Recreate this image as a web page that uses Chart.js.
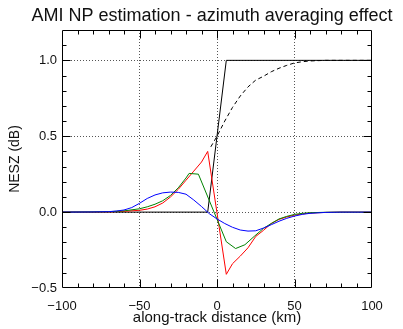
<!DOCTYPE html>
<html>
<head>
<meta charset="utf-8">
<script src="https://cdn.jsdelivr.net/npm/chart.js@4.4.0/dist/chart.umd.min.js"></script>
<style>
    html, body { margin: 0; padding: 0; background: #fff; }
</style>
</head>
<body>
<canvas id="npChart" width="403" height="329"></canvas>
<script>
const chartTitle = 'AMI NP estimation - azimuth averaging effect';

// axes
const xTicks = [-100, -50, 0, 50, 100];
const yTicks = [-0.5, 0.0, 0.5, 1.0];
const xGrid = [-50, 0, 50];
const yGrid = [0, 0.5, 1.0];

// black step (solid)
const xStep = [-100, -6, 6, 100];
const yStep = [0, 0, 1, 1];

// black smoothed step (dashed)
const xSmooth = [-4, 0, 5, 10, 15, 20, 25, 30, 35, 40, 45, 50, 55, 60, 70, 100];
const ySmooth = [0.43, 0.5, 0.6, 0.69, 0.765, 0.825, 0.87, 0.895, 0.925, 0.948, 0.967, 0.983, 0.991, 0.996, 1.0, 1.0];

// red difference
const xRed = [-100, -80, -70, -60, -50, -45, -40, -35, -30, -25, -20, -15, -10, -6, 6, 10, 15, 20, 25, 30, 35, 40, 45, 50, 55, 60, 70, 80, 100];
const yRed = [0, 0, 0.002, 0.005, 0.012, 0.02, 0.035, 0.06, 0.1, 0.15, 0.21, 0.27, 0.33, 0.40, -0.41, -0.34, -0.29, -0.235, -0.16, -0.12, -0.075, -0.048, -0.032, -0.02, -0.012, -0.006, -0.002, 0, 0];

// green difference
const xGreen = [-100, -80, -70, -60, -50, -45, -40, -35, -30, -25, -20, -18, -12, 6, 12, 18, 24, 30, 35, 40, 45, 50, 55, 60, 70, 80, 100];
const yGreen = [0, 0.001, 0.003, 0.008, 0.022, 0.035, 0.052, 0.075, 0.11, 0.16, 0.225, 0.255, 0.25, -0.195, -0.24, -0.215, -0.16, -0.107, -0.075, -0.045, -0.028, -0.015, -0.008, -0.004, -0.001, 0, 0];

// blue difference
const xBlue = [-100, -80, -70, -65, -60, -55, -50, -45, -40, -35, -30, -25, -20, -15, -10, -5, 0, 5, 10, 15, 20, 25, 30, 35, 40, 45, 50, 55, 60, 70, 80, 100];
const yBlue = [0, 0.001, 0.003, 0.007, 0.014, 0.03, 0.058, 0.09, 0.113, 0.127, 0.132, 0.13, 0.118, 0.08, 0.037, -0.01, -0.045, -0.075, -0.1, -0.118, -0.125, -0.123, -0.105, -0.083, -0.06, -0.041, -0.026, -0.015, -0.008, -0.002, 0, 0];

/**
 * Junta dos listas en puntos {x, y}
 */
function toPoints(xs, ys){
    return xs.map((x, i) => ({ x: x, y: ys[i] }));
}

const font = 'Liberation Sans, Arial, sans-serif';

/**
 * Marco del grafico, marcas menores hacia dentro y titulo
 */
const frameTicks = {
    id: 'frameTicks',
    afterDatasetsDraw(chart){
        const ctx = chart.ctx;
        const a = chart.chartArea;
        const x = chart.scales.x;
        const y = chart.scales.y;
        const L = Math.round(a.left) + 0.5, R = Math.round(a.right) - 0.5;
        const T = Math.round(a.top) + 0.5, B = Math.round(a.bottom) - 0.5;
        ctx.save();
        ctx.strokeStyle = '#000';
        ctx.lineWidth = 1;
        ctx.beginPath();
        ctx.rect(L, T, R - L, B - T);
        for (let v = -90; v <= 90; v += 10) {
            const px = Math.round(x.getPixelForValue(v)) + 0.5;
            const len = (v % 50 === 0) ? 8 : 4;
            ctx.moveTo(px, B); ctx.lineTo(px, B - len);
            ctx.moveTo(px, T); ctx.lineTo(px, T + len);
        }
        for (let i = -4; i <= 11; i++) {
            const v = i / 10;
            const py = Math.round(y.getPixelForValue(v)) + 0.5;
            const len = (i % 5 === 0) ? 8 : 4;
            ctx.moveTo(L, py); ctx.lineTo(L + len, py);
            ctx.moveTo(R, py); ctx.lineTo(R - len, py);
        }
        ctx.stroke();

        // titulo
        ctx.fillStyle = '#111';
        ctx.font = '18px ' + font;
        ctx.textAlign = 'center';
        ctx.textBaseline = 'middle';
        ctx.fillText(chartTitle, 212, 16);
        ctx.restore();
    }
};

new Chart(document.getElementById('npChart'), {
    type: 'line',
    data: {
        datasets: [{
            data: toPoints(xBlue, yBlue),
            borderColor: '#0000ff',
            borderWidth: 1,
            order: 0
        }, {
            data: toPoints(xGreen, yGreen),
            borderColor: '#008200',
            borderWidth: 1,
            order: 1
        }, {
            data: toPoints(xRed, yRed),
            borderColor: '#ff0000',
            borderWidth: 1,
            order: 2
        }, {
            data: toPoints(xSmooth, ySmooth),
            borderColor: '#000000',
            borderWidth: 1,
            borderDash: [4, 3],
            order: 3
        }, {
            data: toPoints(xStep, yStep),
            borderColor: '#000000',
            borderWidth: 1,
            order: 4
        }]
    },
    options: {
        responsive: false,
        animation: false,
        devicePixelRatio: 1,
        layout: { padding: { left: 0, right: 31, top: 30, bottom: 0 } },
        elements: {
            point: { radius: 0 },
            line: { tension: 0, fill: false }
        },
        plugins: {
            legend: { display: false },
            tooltip: { enabled: false },
            title: { display: false }
        },
        scales: {
            x: {
                type: 'linear',
                min: -100,
                max: 100,
                afterBuildTicks: scale => { scale.ticks = xTicks.map(v => ({ value: v })); },
                afterFit: scale => { scale.height = 41; },
                grid: {
                    drawTicks: false,
                    color: c => xGrid.includes(c.tick.value) ? '#555' : 'rgba(0,0,0,0)',
                    lineWidth: 1
                },
                border: { display: false, dash: [1, 2] },
                ticks: {
                    color: '#111',
                    padding: 11,
                    maxRotation: 0,
                    font: { family: font, size: 13 },
                    callback: v => String(v).replace('-', '\u2212')
                },
                title: {
                    display: true,
                    text: 'along-track distance (km)',
                    color: '#111',
                    font: { family: font, size: 15 },
                    padding: { top: 0, bottom: 2 }
                }
            },
            y: {
                type: 'linear',
                min: -0.5,
                max: 1.2,
                afterBuildTicks: scale => { scale.ticks = yTicks.map(v => ({ value: v })); },
                afterFit: scale => { scale.width = 62; },
                grid: {
                    drawTicks: false,
                    color: c => yGrid.includes(c.tick.value) ? '#555' : 'rgba(0,0,0,0)',
                    lineWidth: 1
                },
                border: { display: false, dash: [1, 2] },
                ticks: {
                    color: '#111',
                    padding: 5,
                    font: { family: font, size: 13 },
                    callback: v => v.toFixed(1).replace('-', '\u2212')
                },
                title: {
                    display: true,
                    text: 'NESZ (dB)',
                    color: '#111',
                    font: { family: font, size: 14 },
                    padding: { top: 7, bottom: 0 }
                }
            }
        }
    },
    plugins: [frameTicks]
});
</script>
</body>
</html>
